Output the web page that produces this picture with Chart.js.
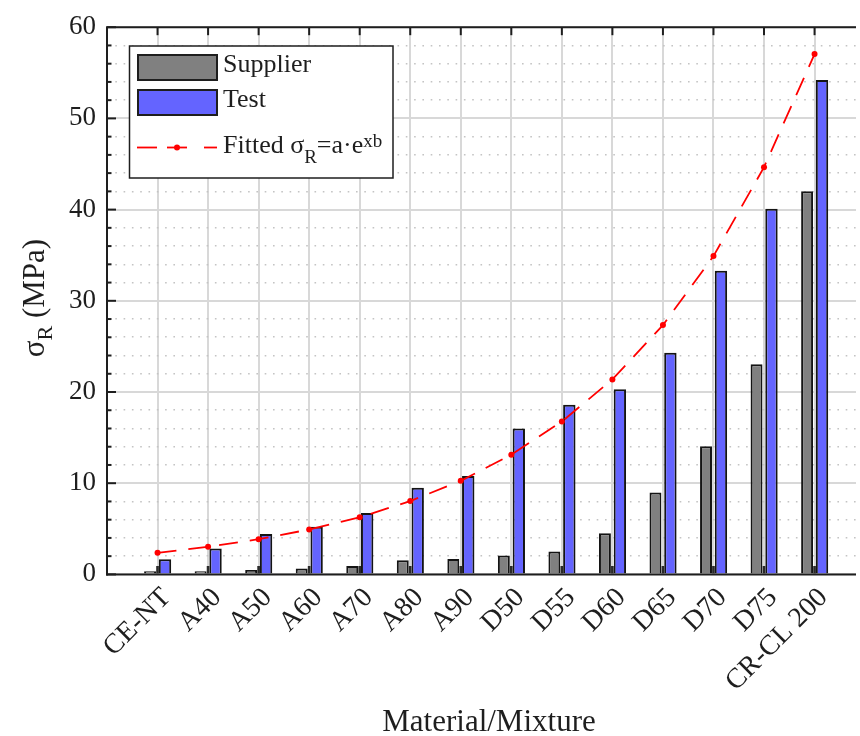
<!DOCTYPE html>
<html>
<head>
<meta charset="utf-8">
<script src="https://cdn.jsdelivr.net/npm/chart.js@4/dist/chart.umd.min.js"></script>
<style>
  html, body { margin: 0; padding: 0; background: #fff; overflow: hidden; }
  canvas { display: block; }
</style>
</head>
<body>
<canvas id="chart" width="860" height="736"></canvas>
<script>
// Flexural strength per material / mixture
const categories = ['CE-NT', 'A40', 'A50', 'A60', 'A70', 'A80', 'A90', 'D50', 'D55', 'D60', 'D65', 'D70', 'D75', 'CR-CL 200'];
const supplier = [0.35, 0.35, 0.48, 0.66, 0.92, 1.54, 1.68, 2.08, 2.52, 4.51, 8.99, 14.04, 23.05, 42.0];
const test = [1.65, 2.85, 4.44, 5.22, 6.72, 9.5, 10.8, 16.0, 18.6, 20.3, 24.3, 33.3, 40.1, 54.2];
const fitted = [2.37, 3.02, 3.86, 4.92, 6.26, 8.04, 10.26, 13.13, 16.76, 21.38, 27.34, 34.9, 44.65, 57.05];
const joint = [0.93, 0.93, 0.93, 0.93, 0.93, 0.93, 0.93, 0.93, 0.93, 0.93, 0.93, 0.93, 0.93, 0.93];
const yRange = [0, 60];
const yMajorStep = 10;
const yMinorStep = 2;

const SERIF = '"Liberation Serif", "DejaVu Serif", serif';
const INK = '#1e1e1e';

const toPoints = values => values.map((v, i) => ({ x: i + 1, y: v }));

const barCommon = {
  categoryPercentage: 0.443,
  borderColor: '#141414',
  borderWidth: 2,
  borderSkipped: 'start',
  order: 1
};

// Frame, inward ticks, axis titles and legend
const framePlugin = {
  id: 'frame',
  afterDatasetsDraw(chart) {
    const { ctx, chartArea: a, scales: { x, y } } = chart;
    ctx.save();
    ctx.strokeStyle = INK;
    ctx.lineWidth = 2;
    ctx.lineCap = 'butt';
    const seg = (x1, y1, x2, y2) => { ctx.beginPath(); ctx.moveTo(x1, y1); ctx.lineTo(x2, y2); ctx.stroke(); };
    // inward y ticks
    y.ticks.forEach(t => {
      const py = y.getPixelForValue(t.value);
      const len = t.value % yMajorStep === 0 ? 9 : 4.5;
      seg(a.left, py, a.left + len, py);
    });
    // inward ticks on the top edge
    x.ticks.forEach(t => {
      const px = x.getPixelForValue(t.value);
      seg(px, a.top, px, a.top + 8);
    });
    // frame lines
    seg(a.left - 1, a.top, a.right, a.top);
    seg(a.left, a.top, a.left, a.bottom + 1);
    seg(a.left - 1, a.bottom, a.right, a.bottom);
    ctx.restore();
  },
  afterDraw(chart) {
    const { ctx } = chart;
    ctx.save();
    ctx.fillStyle = INK;
    // x axis title
    ctx.font = '31px ' + SERIF;
    ctx.textAlign = 'center';
    ctx.textBaseline = 'alphabetic';
    ctx.fillText('Material/Mixture', 489, 731);

    // y axis title: σ_R (MPa)
    ctx.translate(44, 298);
    ctx.rotate(-Math.PI / 2);
    ctx.textAlign = 'left';
    const big = '31px ' + SERIF, sub = '22px ' + SERIF;
    ctx.font = big; const w1 = ctx.measureText('σ').width;
    ctx.font = sub; const w2 = ctx.measureText('R').width;
    ctx.font = big; const w3 = ctx.measureText(' (MPa)').width;
    let cx = -(w1 + w2 + w3) / 2;
    ctx.font = big; ctx.fillText('σ', cx, 0); cx += w1;
    ctx.font = sub; ctx.fillText('R', cx, 8); cx += w2;
    ctx.font = big; ctx.fillText(' (MPa)', cx, 0);
    ctx.restore();

    // legend
    ctx.save();
    const L = 129.5, T = 46, R = 393, B = 178;
    ctx.fillStyle = '#ffffff';
    ctx.fillRect(L, T, R - L, B - T);
    ctx.strokeStyle = INK;
    ctx.lineWidth = 1.5;
    ctx.strokeRect(L, T, R - L, B - T);

    ctx.lineWidth = 2;
    ctx.fillStyle = '#808080';
    ctx.fillRect(138, 55, 79, 25);
    ctx.strokeRect(138, 55, 79, 25);
    ctx.fillStyle = '#6464ff';
    ctx.fillRect(138, 90, 79, 25);
    ctx.strokeRect(138, 90, 79, 25);

    ctx.strokeStyle = '#ff0000';
    ctx.lineWidth = 1.8;
    const ly = 147.5;
    [[137, 157], [167, 187], [204, 217]].forEach(([s, e]) => {
      ctx.beginPath(); ctx.moveTo(s, ly); ctx.lineTo(e, ly); ctx.stroke();
    });
    ctx.fillStyle = '#ff0000';
    ctx.beginPath(); ctx.arc(177, ly, 3, 0, Math.PI * 2); ctx.fill();

    ctx.fillStyle = INK;
    ctx.textAlign = 'left';
    ctx.textBaseline = 'alphabetic';
    const lf = '26px ' + SERIF, lsub = '19px ' + SERIF;
    ctx.font = lf;
    ctx.fillText('Supplier', 223, 72);
    ctx.fillText('Test', 223, 107);
    let tx = 223;
    const put = (txt, font, dy) => { ctx.font = font; ctx.fillText(txt, tx, 153 + dy); tx += ctx.measureText(txt).width; };
    put('Fitted σ', lf, 0);
    put('R', lsub, 10);
    put('=a·e', lf, 0);
    put('xb', lsub, -6);
    ctx.restore();
  }
};

new Chart(document.getElementById('chart'), {
  type: 'bar',
  data: {
    datasets: [
      {
        type: 'line',
        label: 'Fitted σR=a·e^xb',
        data: toPoints(fitted),
        borderColor: '#ff0000',
        backgroundColor: '#ff0000',
        borderWidth: 1.8,
        borderDash: [19, 12],
        pointRadius: 3,
        pointBorderWidth: 0,
        pointBackgroundColor: '#ff0000',
        tension: 0,
        order: 0
      },
      Object.assign({ label: 'Supplier', data: toPoints(supplier), backgroundColor: '#808080', barPercentage: 1.6 }, barCommon),
      Object.assign({ label: 'Joint', data: toPoints(joint), backgroundColor: '#2a2a2a', barPercentage: 0.36 }, barCommon, { borderWidth: 0 }),
      Object.assign({ label: 'Test', data: toPoints(test), backgroundColor: '#6464ff', barPercentage: 1.66 }, barCommon)
    ]
  },
  options: {
    responsive: false,
    animation: false,
    layout: { padding: { left: 0, right: 0, top: 24, bottom: 0 } },
    plugins: { legend: { display: false }, tooltip: { enabled: false } },
    scales: {
      x: {
        type: 'linear',
        offset: false,
        min: 0,
        max: 14.82,
        afterBuildTicks: s => { s.ticks = categories.map((_, i) => ({ value: i + 1 })); },
        afterFit: s => { s.height = 161.6; },
        ticks: {
          autoSkip: false,
          minRotation: 45,
          maxRotation: 45,
          padding: 7,
          labelOffset: 9,
          color: INK,
          font: { family: SERIF, size: 28 },
          callback: v => categories[v - 1] ?? ''
        },
        grid: { color: '#d8d8d8', lineWidth: 2, drawTicks: false, offset: false },
        border: { display: false }
      },
      y: {
        min: yRange[0],
        max: yRange[1],
        afterFit: s => { s.width = 107; },
        ticks: {
          stepSize: yMinorStep,
          autoSkip: false,
          padding: 11,
          color: INK,
          font: { family: SERIF, size: 27 },
          callback: v => (v % yMajorStep === 0 ? String(v) : '')
        },
        grid: {
          drawTicks: false,
          color: c => (c.tick && c.tick.value % yMajorStep === 0 ? '#d8d8d8' : '#c4c4c4'),
          lineWidth: c => (c.tick && c.tick.value % yMajorStep === 0 ? 2 : 1.6)
        },
        border: {
          display: false,
          dash: c => (c.tick && c.tick.value % yMajorStep !== 0 ? [1.6, 6.7] : [])
        }
      }
    }
  },
  plugins: [framePlugin]
});
</script>
</body>
</html>
